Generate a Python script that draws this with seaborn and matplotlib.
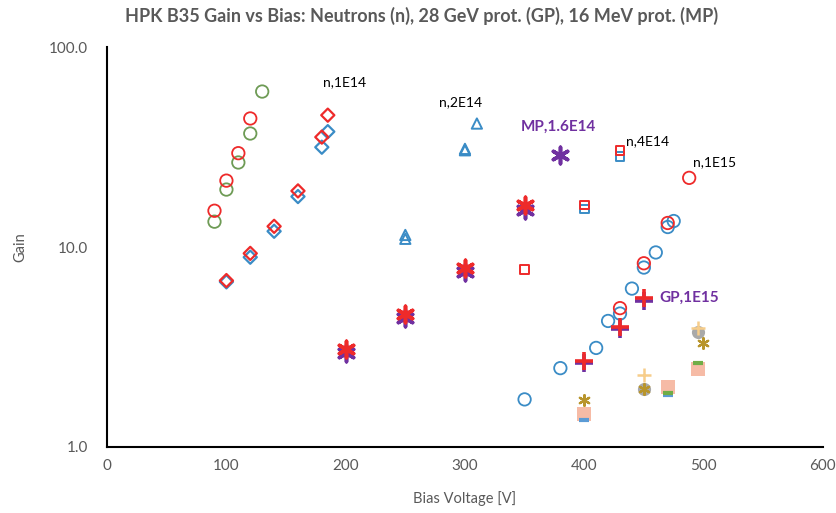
import matplotlib
matplotlib.use("Agg")
import matplotlib.pyplot as plt
from matplotlib.ticker import MultipleLocator, LogLocator, FixedLocator, FuncFormatter, NullFormatter
import seaborn as sns

# ---- measurements: bias voltage [V] and gain ----
# neutrons, unlabeled low-fluence samples (circles)
n_low_green_v = [90, 100, 110, 120, 130]
n_low_green_g = [13.4, 19.4, 26.5, 37.0, 60.0]
n_low_red_v = [90, 100, 110, 120]
n_low_red_g = [15.2, 21.5, 29.5, 44.0]

# neutrons 1E14 (diamonds)
n1e14_blue_v = [100, 120, 140, 160, 180, 185]
n1e14_blue_g = [6.7, 8.9, 12.0, 17.9, 31.6, 37.8]
n1e14_red_v = [100, 120, 140, 160, 180, 185]
n1e14_red_g = [6.8, 9.3, 12.7, 19.1, 35.5, 45.7]

# neutrons 2E14 (triangles)
n2e14_a_v = [250, 300, 310]
n2e14_a_g = [11.5, 31.0, 41.5]
n2e14_b_v = [250, 300]
n2e14_b_g = [11.0, 30.5]

# 16 MeV protons (asterisks)
mp_purple_v = [200, 250, 300, 350, 380]
mp_purple_g = [2.95, 4.4, 7.5, 15.3, 28.8]
mp_red_v = [200, 250, 300, 350]
mp_red_g = [3.1, 4.65, 7.9, 16.3]

# neutrons 4E14 (squares)
n4e14_red_v = [350, 400, 430]
n4e14_red_g = [7.7, 16.2, 30.5]
n4e14_blue_v = [400, 430]
n4e14_blue_g = [15.5, 28.3]

# neutrons 1E15 (circles)
n1e15_blue_v = [350, 380, 410, 420, 430, 440, 450, 460, 470, 475]
n1e15_blue_g = [1.73, 2.48, 3.13, 4.27, 4.65, 6.2, 7.9, 9.4, 12.6, 13.5]
n1e15_red_v = [430, 450, 470, 488]
n1e15_red_g = [4.95, 8.3, 13.2, 22.2]

# 28 GeV protons 1E15 (plus)
gp_purple_v = [400, 430, 450]
gp_purple_g = [2.62, 3.88, 5.4]
gp_red_v = [400, 430, 450]
gp_red_g = [2.68, 3.97, 5.55]

# higher-fluence samples
hf_grey_v = [450, 495]
hf_grey_g = [1.95, 3.75]
hf_olive_v = [400, 450, 500]
hf_olive_g = [1.72, 1.95, 3.3]
hf_yellow_v = [450, 495]
hf_yellow_g = [2.3, 3.95]
hf_salmon_v = [400, 470, 495]
hf_salmon_g = [1.47, 2.0, 2.45]
hf_green_v = [470, 495]
hf_green_g = [1.86, 2.62]
hf_blue_v = [400, 470]
hf_blue_g = [1.36, 1.82]

x_ticks = [0, 100, 200, 300, 400, 500, 600]
y_ticks = [1, 10, 100]

# ---- annotations: (text, voltage, gain) ----
black_labels = [("n,1E14", 181, 67), ("n,2E14", 278, 53),
                ("n,4E14", 435, 34), ("n,1E15", 491, 26.5)]
purple_labels = [("MP,1.6E14", 347, 40), ("GP,1E15", 463, 5.6)]

title = "HPK B35 Gain vs Bias: Neutrons (n), 28 GeV prot. (GP), 16 MeV prot. (MP)"

RED = "#ee2a2a"
BLUE = "#3a8cc6"
GREEN = "#6e9b55"
PURPLE = "#7030a0"
GREY_TXT = "#595959"

sns.set_theme(style="white")
plt.rcParams['font.family'] = ['Lato', 'DejaVu Sans']

fig = plt.figure(figsize=(8.37, 5.13), dpi=100)
ax = fig.add_axes([0.128, 0.1287, 0.855, 0.7793])


def dots(v, g, marker, color, size, lw=1.3, hollow=False, z=3):
    kw = dict(color=color, edgecolor=color, linewidth=lw)
    if hollow:
        kw["facecolor"] = "none"
    sns.scatterplot(x=v, y=g, ax=ax, marker=marker, s=size, zorder=z, **kw)


STAR = (6, 2, 0)

# circles, low fluence
dots(n_low_green_v, n_low_green_g, "o", GREEN, 80, hollow=True)
dots(n_low_red_v, n_low_red_g, "o", RED, 80, hollow=True)
# diamonds
dots(n1e14_blue_v, n1e14_blue_g, "D", BLUE, 45, lw=1.6, hollow=True)
dots(n1e14_red_v, n1e14_red_g, "D", RED, 45, lw=1.6, hollow=True)
# triangles
dots(n2e14_b_v, n2e14_b_g, "^", BLUE, 55, lw=1.4, hollow=True)
dots(n2e14_a_v, n2e14_a_g, "^", BLUE, 55, lw=1.4, hollow=True)
# asterisks
dots(mp_purple_v, mp_purple_g, STAR, PURPLE, 140, lw=2.6)
dots(mp_red_v, mp_red_g, STAR, RED, 140, lw=2.6)
# squares
dots(n4e14_blue_v, n4e14_blue_g, "s", BLUE, 38, lw=1.4, hollow=True)
dots(n4e14_red_v, n4e14_red_g, "s", RED, 38, lw=1.4, hollow=True)
# circles 1E15
dots(n1e15_blue_v, n1e15_blue_g, "o", BLUE, 80, hollow=True)
dots(n1e15_red_v, n1e15_red_g, "o", RED, 80, hollow=True)
# plus
dots(gp_purple_v, gp_purple_g, "+", PURPLE, 170, lw=2.6)
dots(gp_red_v, gp_red_g, "+", RED, 170, lw=2.6)
# higher fluence cluster
dots(hf_salmon_v, hf_salmon_g, "s", "#f6bba6", 90, lw=0)
dots(hf_blue_v, hf_blue_g, "_", "#5b9bd5", 60, lw=3)
dots(hf_green_v, hf_green_g, "_", "#70ad47", 60, lw=3)
dots(hf_grey_v, hf_grey_g, "o", "#a9a9a9", 90, lw=0)
dots(hf_yellow_v, hf_yellow_g, "+", "#f7cd8a", 110, lw=1.8)
dots(hf_olive_v, hf_olive_g, STAR, "#b8952c", 60, lw=1.6)

ax.set_yscale("log")
ax.set_xlim(0, 600)
ax.set_ylim(1, 100)
ax.xaxis.set_major_locator(FixedLocator(x_ticks))
ax.xaxis.set_minor_locator(MultipleLocator(20))
ax.yaxis.set_major_locator(FixedLocator(y_ticks))
ax.yaxis.set_minor_locator(LogLocator(base=10, subs=range(2, 10)))
ax.yaxis.set_minor_formatter(NullFormatter())
ax.yaxis.set_major_formatter(FuncFormatter(lambda v, p: f"{v:.1f}"))
ax.xaxis.set_major_formatter(FuncFormatter(lambda v, p: f"{v:.0f}"))

for side in ("top", "right"):
    ax.spines[side].set_visible(False)
for side in ("left", "bottom"):
    ax.spines[side].set_color("black")
    ax.spines[side].set_linewidth(1.5)

ax.tick_params(axis="both", which="both", direction="in", color="black",
               width=1.2, labelcolor=GREY_TXT, labelsize=11)
ax.tick_params(axis="both", which="major", length=5)
ax.tick_params(axis="both", which="minor", length=4)
ax.tick_params(axis="y", which="major", pad=14)
ax.tick_params(axis="x", which="major", pad=9)
ax.grid(False)

ax.set_xlabel("Bias Voltage [V]", fontsize=10.5, color=GREY_TXT, labelpad=13)
ax.set_ylabel("Gain", fontsize=10.5, color=GREY_TXT, labelpad=15)

for txt, v, g in black_labels:
    ax.text(v, g, txt, fontsize=10, color="black", va="center", ha="left")
for txt, v, g in purple_labels:
    ax.text(v, g, txt, fontsize=11, color=PURPLE, fontweight="bold",
            va="center", ha="left")

fig.text(0.504, 0.968, title, ha="center", va="center", fontsize=13,
         fontweight="bold", color=GREY_TXT)

fig.savefig("out.png", dpi=100)
